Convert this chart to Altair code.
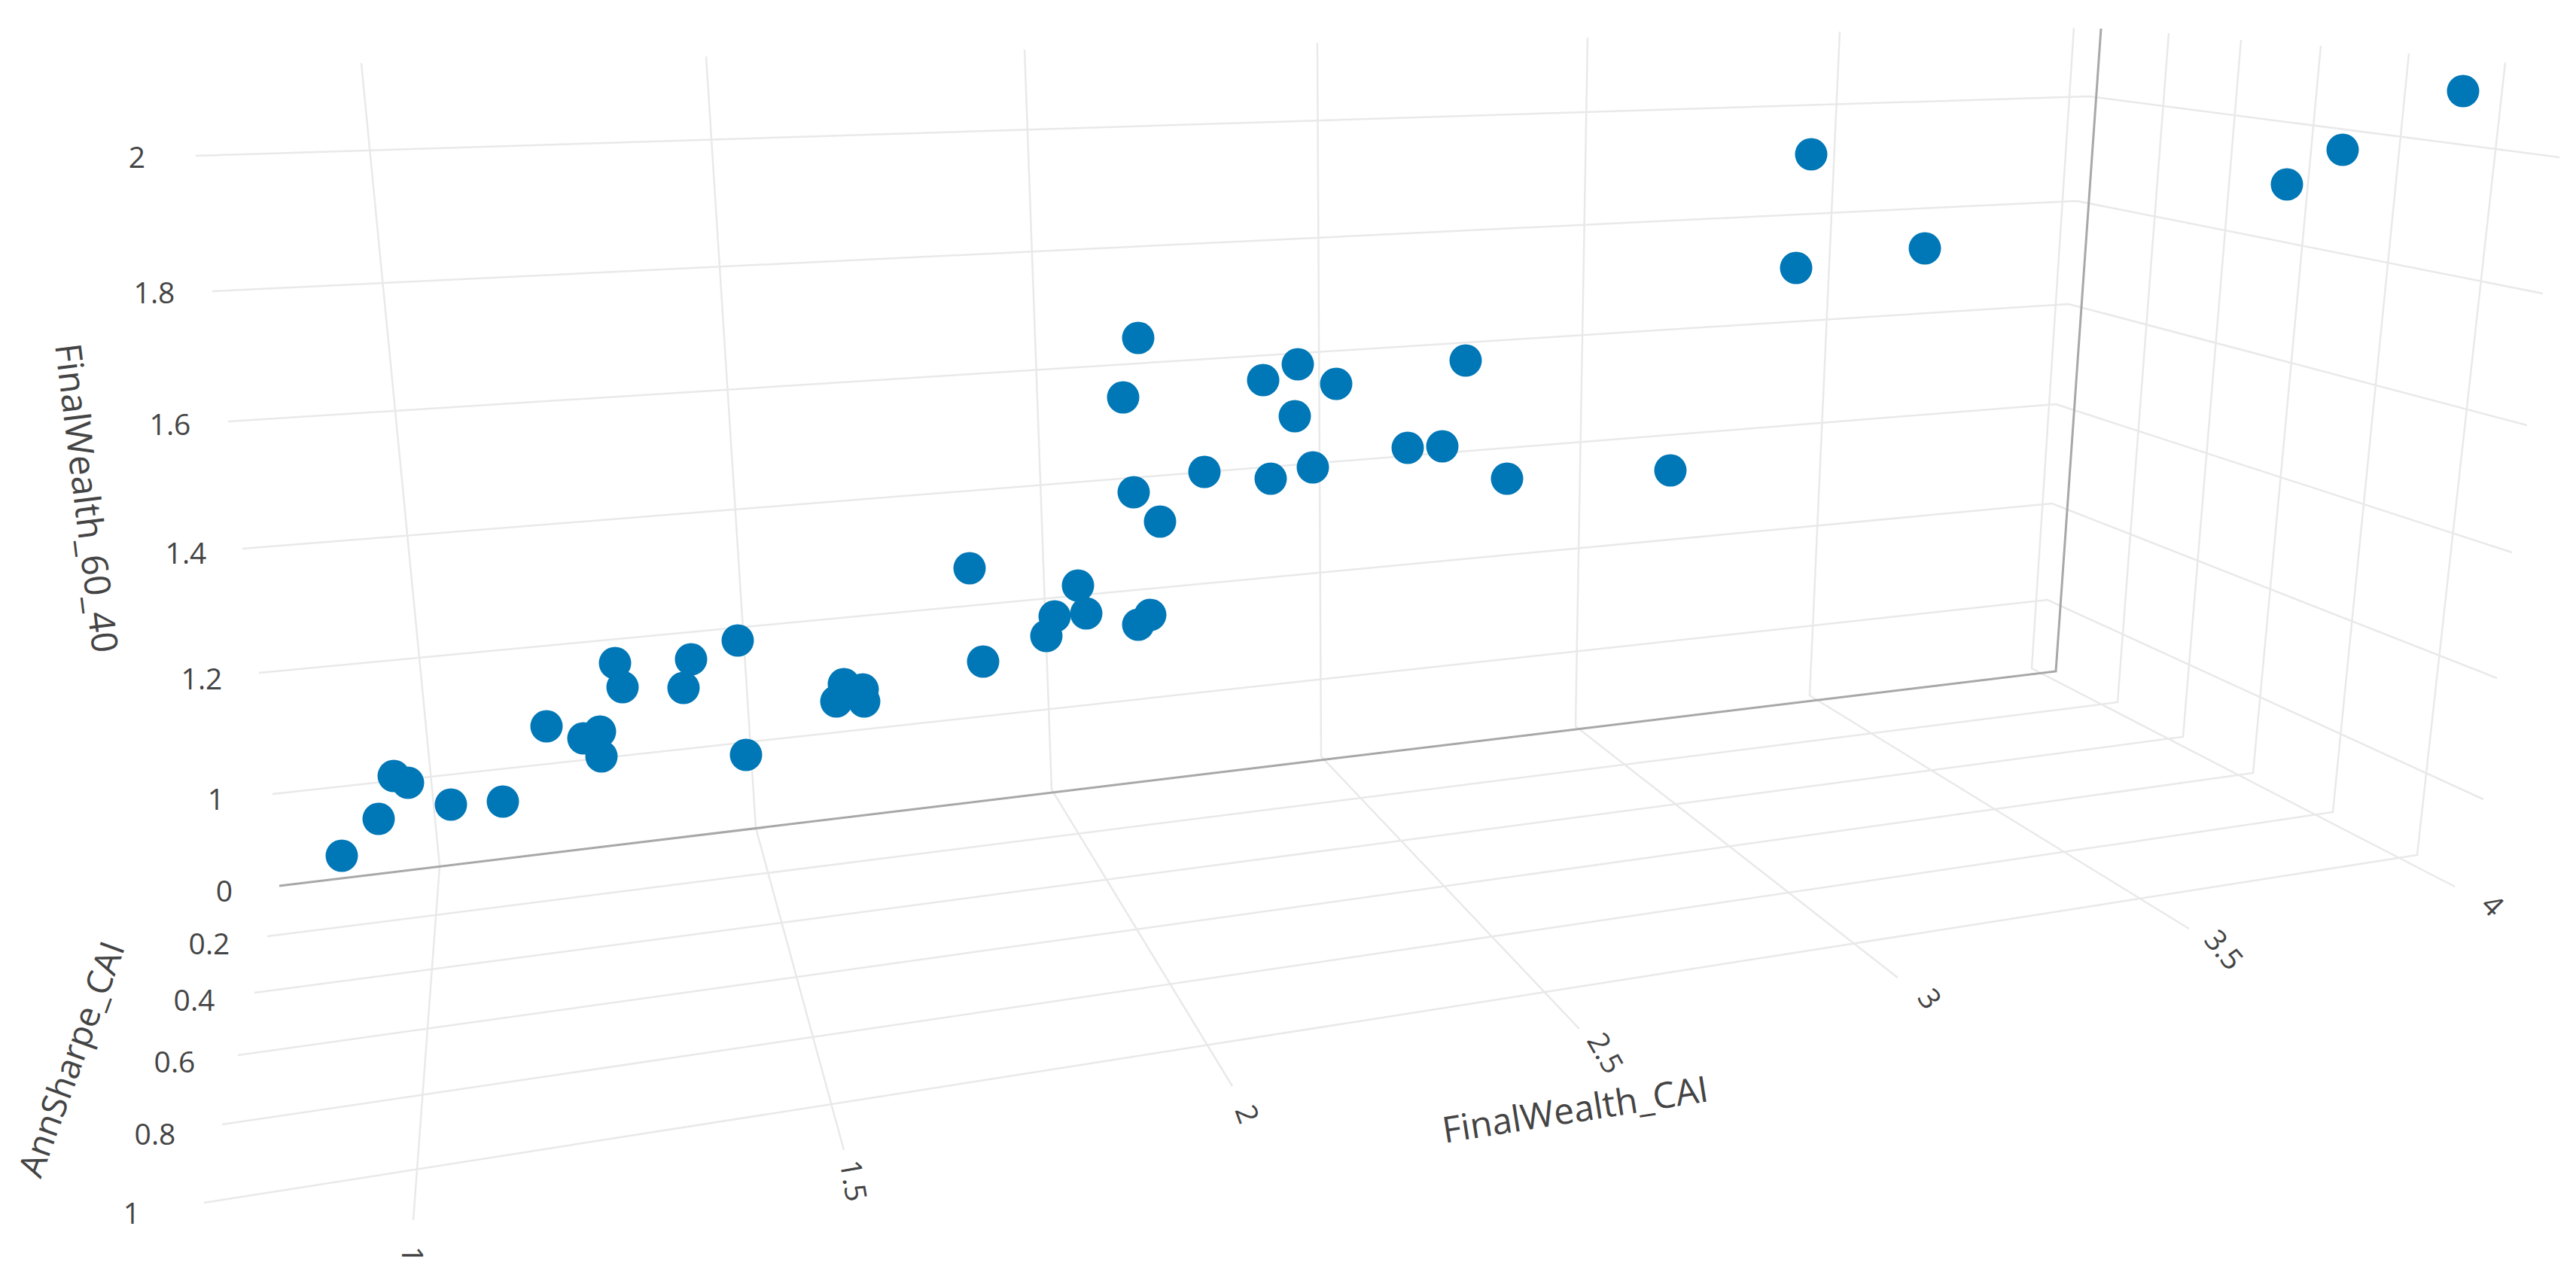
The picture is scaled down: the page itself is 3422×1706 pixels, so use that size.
import altair as alt
import pandas as pd

# Projected positions of the 3D scatter, in reference picture units
point_x = [454, 503, 523, 542, 599, 668, 726, 775, 797, 799, 817, 827, 908, 918, 980, 991,
           1111, 1121, 1146, 1148, 1288, 1306, 1390, 1401, 1432, 1443, 1512, 1528, 1506, 1541,
           1492, 1512, 1600, 1678, 1688, 1724, 1720, 1744, 1775, 1870, 1916, 1947, 2002, 2219,
           2386, 2406, 2557, 3038, 3112, 3272]
point_y = [1137, 1088, 1031, 1040, 1069, 1065, 965, 981, 972, 1005, 881, 913, 914, 876, 851, 1003,
           932, 909, 916, 932, 755, 879, 845, 819, 778, 815, 830, 817, 654, 693,
           528, 449, 627, 505, 636, 484, 553, 621, 510, 595, 593, 479, 636, 625,
           356, 205, 330, 245, 199, 121]

# FinalWealth_60_40 levels: left end, wall bend, right end
z_ticks = ["2", "1.8", "1.6", "1.4", "1.2", "1"]
z_left_x = [260, 282, 303, 322, 344, 362]
z_left_y = [207, 387, 560, 729, 894, 1055]
z_bend_x = [2775, 2759, 2748, 2731, 2726, 2720]
z_bend_y = [128, 267, 404, 537, 669, 797]
z_right_x = [3400, 3378, 3357, 3337, 3317, 3299]
z_right_y = [209, 390, 565, 734, 901, 1062]
z_label_x = [182, 205, 226, 247, 268, 287]
z_label_y = [211, 391, 566, 737, 904, 1064]

# FinalWealth_CAI ticks: wall top, floor corner, floor end
x_ticks = ["1", "1.5", "2", "2.5", "3", "3.5", "4"]
x_top_x = [480, 938, 1361, 1750, 2109, 2444, 2755]
x_top_y = [84, 75, 66, 57, 50, 42, 37]
x_mid_x = [584, 1004, 1397, 1755, 2093, 2404, 2699]
x_mid_y = [1151, 1100, 1049, 1005, 965, 924, 888]
x_end_x = [549, 1121, 1637, 2098, 2521, 2908, 3261]
x_end_y = [1621, 1528, 1443, 1367, 1299, 1234, 1178]
x_label_x = [546, 1132, 1655, 2131, 2562, 2953, 3310]
x_label_y = [1667, 1569, 1481, 1400, 1328, 1263, 1204]
x_label_angle = [90, 80, 70, 60, 55, 50, 45]

# AnnSharpe_CAI ticks: floor left end, wall corner, wall top
y_ticks = ["0", "0.2", "0.4", "0.6", "0.8", "1"]
y_left_x = [371, 355, 338, 316, 295, 271]
y_left_y = [1177, 1244, 1319, 1402, 1494, 1598]
y_mid_x = [2731, 2813, 2900, 2993, 3099, 3211]
y_mid_y = [892, 933, 979, 1027, 1079, 1136]
y_top_x = [2791, 2881, 2977, 3083, 3200, 3328]
y_top_y = [38, 44, 53, 61, 71, 83]
y_label_x = [298, 278, 258, 232, 206, 175]
y_label_y = [1186, 1256, 1331, 1413, 1509, 1614]

titles = ["FinalWealth_60_40", "AnnSharpe_CAI", "FinalWealth_CAI"]
title_x = [112, 97, 2093]
title_y = [662, 1408, 1477]
title_angle = [83, -70, -9]

BLUE = "#0077b6"
TEXT = "#444444"
FONT = "Open Sans"

rows = []
for i, t in enumerate(z_ticks):
    rows += [dict(g=f"z{t}", o=0, x=z_left_x[i], y=z_left_y[i]),
             dict(g=f"z{t}", o=1, x=z_bend_x[i], y=z_bend_y[i]),
             dict(g=f"z{t}", o=2, x=z_right_x[i], y=z_right_y[i])]
for i, t in enumerate(x_ticks):
    rows += [dict(g=f"x{t}", o=0, x=x_top_x[i], y=x_top_y[i]),
             dict(g=f"x{t}", o=1, x=x_mid_x[i], y=x_mid_y[i]),
             dict(g=f"x{t}", o=2, x=x_end_x[i], y=x_end_y[i])]
for i, t in enumerate(y_ticks[1:], start=1):
    rows += [dict(g=f"y{t}", o=0, x=y_left_x[i], y=y_left_y[i]),
             dict(g=f"y{t}", o=1, x=y_mid_x[i], y=y_mid_y[i]),
             dict(g=f"y{t}", o=2, x=y_top_x[i], y=y_top_y[i])]
grid = pd.DataFrame(rows)

axis_lines = pd.DataFrame([
    dict(g="floor", o=0, x=y_left_x[0], y=y_left_y[0]),
    dict(g="floor", o=1, x=y_mid_x[0], y=y_mid_y[0]),
    dict(g="floor", o=2, x=y_top_x[0], y=y_top_y[0]),
])

X = alt.X("x:Q", scale=alt.Scale(domain=[8, 3414], nice=False, zero=False), axis=None)
Y = alt.Y("y:Q", scale=alt.Scale(domain=[1698, 8], nice=False, zero=False), axis=None)

grid_layer = alt.Chart(grid).mark_line(color="#e9e9e9", strokeWidth=2.5).encode(
    x=X, y=Y, detail="g:N", order="o:Q")
axis_layer = alt.Chart(axis_lines).mark_line(color="#a8a8a8", strokeWidth=3).encode(
    x=X, y=Y, detail="g:N", order="o:Q")
points = alt.Chart(pd.DataFrame({"x": point_x, "y": point_y})).mark_point(
    shape="circle", filled=True, size=1850, color=BLUE, opacity=1).encode(x=X, y=Y)

z_text = pd.DataFrame({"x": z_label_x, "y": z_label_y, "t": z_ticks, "a": 0})
y_text = pd.DataFrame({"x": y_label_x, "y": y_label_y, "t": y_ticks, "a": 0})
x_text = pd.DataFrame({"x": x_label_x, "y": x_label_y, "t": x_ticks, "a": x_label_angle})
tick_text = pd.concat([z_text, y_text, x_text])
ticks_layer = alt.Chart(tick_text).mark_text(
    font=FONT, fontSize=39, color=TEXT, align="center", baseline="middle").encode(
    x=X, y=Y, text="t:N", angle=alt.Angle("a:Q", scale=None))

title_layers = []
for name, tx, ty, ta, fs in zip(titles, title_x, title_y, title_angle, [48, 46, 48]):
    title_layers.append(
        alt.Chart(pd.DataFrame({"x": [tx], "y": [ty], "t": [name]})).mark_text(
            font=FONT, fontSize=fs, color=TEXT, angle=(ta + 360) % 360,
            align="center", baseline="middle").encode(x=X, y=Y, text="t:N"))

chart = alt.layer(grid_layer, axis_layer, points, ticks_layer, *title_layers).properties(
    width=3406, height=1690, padding=0, autosize=alt.AutoSizeParams(type="none"),
    background="white",
).configure_view(stroke=None)

chart.save("out.html", embed_options={"renderer": "svg", "actions": False})
